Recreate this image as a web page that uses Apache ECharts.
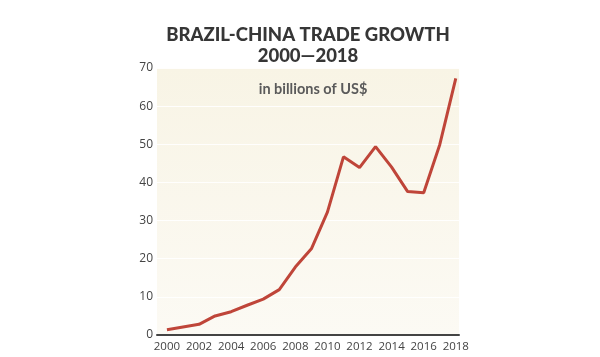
<!DOCTYPE html>
<html><head><meta charset="utf-8">
<script src="https://cdn.jsdelivr.net/npm/echarts@6/dist/echarts.min.js"></script>
<style>html,body{margin:0;padding:0;background:#fff}#c{width:600px;height:357px}</style>
</head><body><div id="c"></div>
<script>
const years = [2000,2001,2002,2003,2004,2005,2006,2007,2008,2009,2010,2011,2012,2013,2014,2015,2016,2017,2018];
const trade = [1.4,2.1,2.8,5.0,6.1,7.8,9.4,11.9,17.8,22.6,32.2,46.7,43.9,49.4,44.0,37.6,37.3,49.9,67.3];
const yTicks = [0,10,20,30,40,50,60,70];
const titleText = 'BRAZIL-CHINA TRADE GROWTH\n2000\u20142018';
const subText = 'in billions of US$';

const chart = echarts.init(document.getElementById('c'));
chart.setOption({
  animation: false,
  title: [{
    text: titleText, left: 303, top: 20, textAlign: 'center',
    textStyle: {fontFamily: 'Lato', fontWeight: 900, fontSize: 18.5, color: '#363636', lineHeight: 21}
  },{
    text: subText, left: 308, top: 77, textAlign: 'center',
    textStyle: {fontFamily: 'Lato', fontWeight: 'bold', fontSize: 14.5, color: '#5a5a5a'}
  }],
  grid: {left: 157, right: 141, top: 68, bottom: 22, show: true, borderWidth: 0,
    backgroundColor: new echarts.graphic.LinearGradient(0,0,0,1,[{offset:0,color:'#f8f4e5'},{offset:1,color:'#fcfaf4'}])},
  xAxis: {
    type: 'value', min: 1999.38, max: 2018.2, interval: 2,
    axisLine: {show: true, lineStyle: {color: '#444', width: 2}},
    axisTick: {show: false}, splitLine: {show: false},
    axisLabel: {
      fontFamily: 'Open Sans', fontSize: 11.5, color: '#444', margin: 6,
      customValues: years.filter(y => y % 2 === 0),
      formatter: v => String(v)
    }
  },
  yAxis: {
    type: 'value', min: 0, max: 70, interval: 10,
    axisLine: {show: false}, axisTick: {show: false},
    splitLine: {show: true, lineStyle: {color: 'rgba(255,255,255,0.9)', width: 1}},
    axisLabel: {fontFamily: 'Open Sans', fontSize: 12, color: '#444', margin: 4,
      customValues: yTicks}
  },
  series: [{
    type: 'line', data: years.map((y,i)=>[y, trade[i]]),
    symbol: 'none', lineStyle: {color: '#bf4539', width: 3}, z: 3
  }]
});
</script></body></html>
